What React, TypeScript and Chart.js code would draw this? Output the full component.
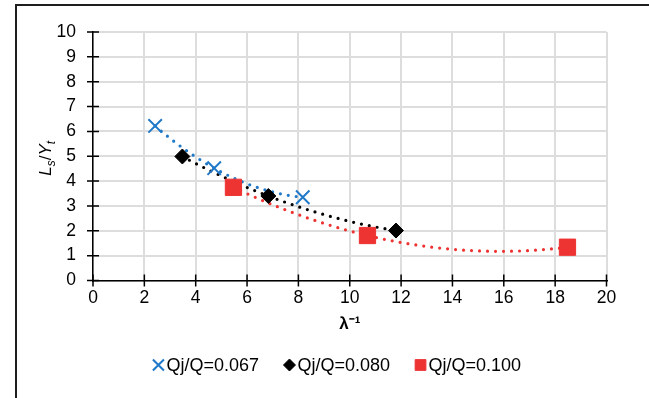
import { useEffect, useRef } from 'react';
import { Chart, registerables } from 'chart.js';
import { drawPoint } from 'chart.js/helpers';

Chart.register(...registerables);

const seriesLabels = ['Qj/Q=0.067', 'Qj/Q=0.080', 'Qj/Q=0.100'];
const seriesColors = ['#1F78C8', '#000000', '#EE3333'];

const x067 = [2.42, 4.72, 8.17];
const y067 = [6.22, 4.52, 3.35];
const x080 = [3.48, 6.83, 11.8];
const y080 = [4.99, 3.4, 2.01];
const x100 = [5.47, 10.69, 18.48];
const y100 = [3.75, 1.81, 1.34];

const xTickValues = [0, 2, 4, 6, 8, 10, 12, 14, 16, 18, 20];
const yTickValues = [0, 1, 2, 3, 4, 5, 6, 7, 8, 9, 10];

const xTitle = 'λ⁻¹';

const FONT = '"Liberation Sans", Arial, sans-serif';

function toPoints(xs: number[], ys: number[]) {
  return xs.map((x, i) => ({ x, y: ys[i] }));
}

// Least-squares polynomial (order 2) trendline, as in the spreadsheet chart
function quadFit(pts: { x: number; y: number }[]) {
  let s0 = 0, s1 = 0, s2 = 0, s3 = 0, s4 = 0, t0 = 0, t1 = 0, t2 = 0;
  for (const p of pts) {
    const x = p.x, y = p.y;
    s0 += 1; s1 += x; s2 += x * x; s3 += x * x * x; s4 += x * x * x * x;
    t0 += y; t1 += x * y; t2 += x * x * y;
  }
  const M = [
    [s4, s3, s2],
    [s3, s2, s1],
    [s2, s1, s0],
  ];
  const V = [t2, t1, t0];
  const det = (m: number[][]) =>
    m[0][0] * (m[1][1] * m[2][2] - m[1][2] * m[2][1]) -
    m[0][1] * (m[1][0] * m[2][2] - m[1][2] * m[2][0]) +
    m[0][2] * (m[1][0] * m[2][1] - m[1][1] * m[2][0]);
  const D = det(M);
  const res: number[] = [];
  for (let c = 0; c < 3; c++) {
    const Mc = M.map((row, r) => row.map((v, k) => (k === c ? V[r] : v)));
    res.push(det(Mc) / D);
  }
  return res; // a, b, c
}

const decorPlugin = {
  id: 'decor',
  beforeDatasetsDraw(chart: any) {
    const ctx = chart.ctx;
    const xs = chart.scales.x;
    const ys = chart.scales.y;
    const area = chart.chartArea;
    ctx.save();
    ctx.beginPath();
    ctx.rect(area.left, area.top, area.right - area.left, area.bottom - area.top);
    ctx.clip();
    const order = [0, 2, 1];
    for (const i of order) {
      const ds = chart.data.datasets[i];
      const pts = ds.data as { x: number; y: number }[];
      const [a, b, c] = quadFit(pts);
      const xmin = Math.min(...pts.map((p) => p.x));
      const xmax = Math.max(...pts.map((p) => p.x));
      ctx.beginPath();
      const n = 200;
      for (let k = 0; k <= n; k++) {
        const xv = xmin + ((xmax - xmin) * k) / n;
        const yv = a * xv * xv + b * xv + c;
        const px = xs.getPixelForValue(xv);
        const py = ys.getPixelForValue(yv);
        if (k === 0) ctx.moveTo(px, py);
        else ctx.lineTo(px, py);
      }
      ctx.setLineDash([0, 8]);
      ctx.lineCap = 'round';
      ctx.lineWidth = 3.2;
      ctx.strokeStyle = ds.borderColor;
      ctx.stroke();
    }
    ctx.restore();
  },
  afterDraw(chart: any) {
    const ctx = chart.ctx;
    const xs = chart.scales.x;
    const ys = chart.scales.y;
    const { left, bottom, top, right } = chart.chartArea;
    ctx.save();
    // cross tick marks
    ctx.strokeStyle = '#000';
    ctx.lineWidth = 1.5;
    ctx.setLineDash([]);
    ctx.beginPath();
    xs.ticks.forEach((t: any) => {
      const px = xs.getPixelForValue(t.value);
      ctx.moveTo(px, bottom - 6);
      ctx.lineTo(px, bottom + 6);
    });
    ys.ticks.forEach((t: any) => {
      const py = ys.getPixelForValue(t.value);
      ctx.moveTo(left - 6, py);
      ctx.lineTo(left + 6, py);
    });
    ctx.stroke();

    // frame
    ctx.fillStyle = '#1e1e1e';
    ctx.fillRect(15, 4, chart.width - 15, 2);
    ctx.fillRect(15, 4, 2, chart.height - 4);

    // x title
    ctx.fillStyle = '#000';
    ctx.font = `bold 17px ${FONT}`;
    ctx.textAlign = 'center';
    ctx.textBaseline = 'middle';
    ctx.fillText(xTitle, (left + right) / 2, 324);

    // y title: L_s / Y_t
    ctx.save();
    ctx.translate(45, (top + bottom) / 2 + 2);
    ctx.rotate(-Math.PI / 2);
    ctx.textBaseline = 'alphabetic';
    ctx.textAlign = 'left';
    const big = `italic 17px ${FONT}`;
    const small = `italic 12px ${FONT}`;
    const normal = `17px ${FONT}`;
    const parts: [string, string, number][] = [
      ['L', big, 0],
      ['s', small, 4],
      ['/', normal, 0],
      ['Y', big, 0],
      ['t', small, 4],
    ];
    let w = 0;
    for (const [t, f] of parts) {
      ctx.font = f;
      w += ctx.measureText(t).width;
    }
    let cx = -w / 2;
    for (const [t, f, dy] of parts) {
      ctx.font = f;
      ctx.fillText(t, cx, 6 + dy);
      cx += ctx.measureText(t).width;
    }
    ctx.restore();

    // legend
    const legendFont = `18px ${FONT}`;
    ctx.font = legendFont;
    const markerW = 11;
    const gap = 2.5;
    const spacing = 25;
    const widths = chart.data.datasets.map((d: any) => ctx.measureText(d.label).width);
    const total =
      widths.reduce((s: number, v: number) => s + markerW + gap + v, 0) +
      spacing * (widths.length - 1);
    let lx = 337 - total / 2;
    const ly = 365;
    const legendRadius = [7.8, 6, 7.6];
    chart.data.datasets.forEach((d: any, i: number) => {
      ctx.fillStyle = d.backgroundColor;
      ctx.strokeStyle = d.borderColor;
      ctx.lineWidth = d.pointBorderWidth;
      drawPoint(ctx, { pointStyle: d.pointStyle, radius: legendRadius[i], borderWidth: d.pointBorderWidth, rotation: 0 } as any, lx + markerW / 2, ly);
      ctx.fillStyle = '#000';
      ctx.font = legendFont;
      ctx.textAlign = 'left';
      ctx.textBaseline = 'middle';
      ctx.fillText(d.label, lx + markerW + gap, ly + 1);
      lx += markerW + gap + widths[i] + spacing;
    });
    ctx.restore();
  },
};

export default function App() {
  const canvasRef = useRef<HTMLCanvasElement | null>(null);

  useEffect(() => {
    document.body.style.margin = '0';
    const canvas = canvasRef.current;
    if (!canvas) return;
    const chart = new Chart(canvas, {
      type: 'scatter',
      data: {
        datasets: [
          {
            label: seriesLabels[0],
            data: toPoints(x067, y067),
            pointStyle: 'crossRot',
            pointRadius: 9.5,
            pointBorderWidth: 2,
            borderColor: seriesColors[0],
            backgroundColor: seriesColors[0],
          },
          {
            label: seriesLabels[1],
            data: toPoints(x080, y080),
            pointStyle: 'rectRot',
            pointRadius: 7.5,
            pointBorderWidth: 1,
            borderColor: seriesColors[1],
            backgroundColor: seriesColors[1],
          },
          {
            label: seriesLabels[2],
            data: toPoints(x100, y100),
            pointStyle: 'rect',
            pointRadius: 11.5,
            pointBorderWidth: 1,
            borderColor: seriesColors[2],
            backgroundColor: seriesColors[2],
          },
        ] as any,
      },
      options: {
        animation: false,
        responsive: false,
        devicePixelRatio: 1,
        layout: { padding: { top: 32, right: 42.5, left: 0, bottom: 0 } },
        plugins: {
          legend: { display: false },
          tooltip: { enabled: false },
        },
        scales: {
          x: {
            type: 'linear',
            min: 0,
            max: 20,
            afterBuildTicks: (scale: any) => {
              scale.ticks = xTickValues.map((v) => ({ value: v }));
            },
            afterFit: (scale: any) => {
              scale.height = 117.5;
            },
            ticks: {
              color: '#000',
              padding: 7,
              font: { family: FONT, size: 17.5 },
            },
            grid: { color: '#DDDDDD', lineWidth: 2, drawTicks: false },
            border: { color: '#000', width: 1.5 },
          },
          y: {
            type: 'linear',
            min: 0,
            max: 10,
            afterBuildTicks: (scale: any) => {
              scale.ticks = yTickValues.map((v) => ({ value: v }));
            },
            afterFit: (scale: any) => {
              scale.width = 93;
            },
            ticks: {
              color: '#000',
              padding: 17,
              font: { family: FONT, size: 17.5 },
            },
            grid: { color: '#DDDDDD', lineWidth: 2, drawTicks: false },
            border: { color: '#000', width: 1.5 },
          },
        },
      } as any,
      plugins: [decorPlugin],
    });
    return () => chart.destroy();
  }, []);

  return (
    <div style={{ width: 649, height: 398, background: '#fff' }}>
      <canvas ref={canvasRef} width={649} height={398} />
    </div>
  );
}
